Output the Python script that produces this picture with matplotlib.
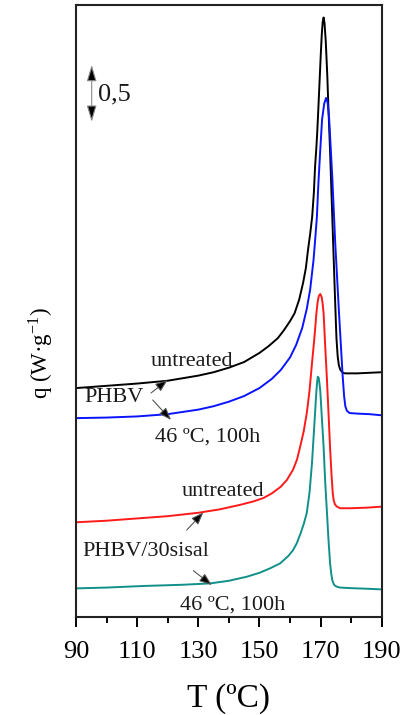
import matplotlib
matplotlib.use('Agg')
import matplotlib.pyplot as plt

plt.rcParams['font.family'] = ['Liberation Serif', 'DejaVu Serif']
plt.rcParams['mathtext.fontset'] = 'stix'

# DSC heating curves, PHBV and PHBV/30sisal (untreated and aged at 46 C for 100 h)
T_phbv = [90, 100, 110, 120, 130, 135, 140, 145, 150, 153, 156, 158, 160, 161.5, 163, 164.3, 165.2,
          165.9, 166.6, 167.25, 167.8, 168.2, 168.6, 168.9, 169.3, 169.7, 170.1, 170.4, 170.7, 171.0,
          171.3, 171.7, 172.2, 172.6, 173.1, 173.6, 174.2, 174.7, 175.2, 175.6, 176.0, 176.5, 177.3,
          178, 182, 186, 190]
q_phbv = [2.02, 2.04, 2.06, 2.085, 2.13, 2.16, 2.20, 2.25, 2.33, 2.39, 2.46, 2.53, 2.61, 2.68, 2.80,
          2.95, 3.08, 3.24, 3.38, 3.53, 3.74, 3.97, 4.13, 4.27, 4.50, 4.74, 4.98, 5.14, 5.25, 5.29,
          5.24, 5.08, 4.78, 4.47, 4.12, 3.72, 3.24, 2.84, 2.46, 2.30, 2.22, 2.18, 2.155,
          2.15, 2.15, 2.155, 2.16]

T_phbv_aged = [90, 100, 110, 120, 130, 135, 140, 145, 150, 154, 157, 160, 162, 164, 165.5, 166.6,
               167.7, 168.3, 168.8, 169.3, 169.9, 170.5, 171.2, 171.8, 172.3, 172.8, 173.3, 173.8,
               174.3, 174.8, 175.4, 176.0, 176.6, 177.2, 177.7, 178.1, 178.6, 179.5, 182, 186, 190]
q_phbv_aged = [1.755, 1.76, 1.77, 1.79, 1.83, 1.86, 1.90, 1.95, 2.02, 2.10, 2.18, 2.29, 2.40, 2.55,
               2.72, 2.89, 3.15, 3.35, 3.53, 3.83, 4.12, 4.39, 4.53, 4.58, 4.54, 4.40, 4.15, 3.90,
               3.60, 3.30, 3.00, 2.70, 2.42, 2.14, 1.95, 1.86, 1.82, 1.80, 1.795, 1.79, 1.78]

T_sisal = [90, 100, 110, 120, 130, 137, 143.7, 148, 151.3, 154, 157, 159, 161, 162.3, 163.3, 164.5,
           165.5, 166.4, 167.2, 167.8, 168.2, 168.6, 169.0, 169.4, 169.9, 170.4, 170.7, 171.0, 171.5,
           172.1, 172.6, 173.1, 173.6, 174.0, 174.3, 174.7, 175.3, 176.4, 180, 185, 190]
q_sisal = [0.836, 0.85, 0.87, 0.89, 0.92, 0.95, 0.99, 1.02, 1.05, 1.09, 1.15, 1.21, 1.30, 1.39,
           1.50, 1.64, 1.80, 2.00, 2.24, 2.41, 2.53, 2.67, 2.77, 2.83, 2.85, 2.82, 2.76, 2.68, 2.40,
           2.09, 1.80, 1.50, 1.25, 1.09, 1.03, 0.995, 0.975, 0.96, 0.96, 0.965, 0.974]

T_sisal_aged = [90, 100, 112, 125, 133.9, 140, 145.9, 150, 153.5, 156.8, 159.5, 161, 162.2, 163.5,
                164.6, 165.5, 166.4, 167.2, 167.7, 168.2, 168.6, 168.9, 169.1, 169.4, 169.6, 169.9,
                170.4, 171.0, 171.5, 172.1, 172.6, 173.1, 173.5, 173.9, 174.4, 175.1, 176.4, 180,
                185, 190]
q_sisal_aged = [0.253, 0.26, 0.274, 0.285, 0.297, 0.32, 0.356, 0.39, 0.43, 0.474, 0.54, 0.59, 0.65,
                0.74, 0.83, 0.92, 1.10, 1.36, 1.58, 1.80, 1.98, 2.08, 2.12, 2.11, 2.07, 2.00, 1.77,
                1.50, 1.20, 0.92, 0.68, 0.48, 0.38, 0.32, 0.285, 0.27, 0.26, 0.255, 0.25, 0.244]

curves = [
    (T_phbv, q_phbv, '#000000'),
    (T_phbv_aged, q_phbv_aged, '#0a14ff'),
    (T_sisal, q_sisal, '#ff1a1a'),
    (T_sisal_aged, q_sisal_aged, '#11908a'),
]

fig = plt.figure(figsize=(4.02, 7.15), dpi=100)
ax = fig.add_axes([0.189, 0.137, 0.7605, 0.856])

for T, q, c in curves:
    ax.plot(T, q, color=c, lw=1.4)

ax.set_xlim(90, 190)
ax.set_ylim(0, 5.4)
ax.set_xticks(range(90, 191, 20))
ax.set_xticks(range(100, 190, 20), minor=True)
ax.tick_params(axis='x', which='major', direction='out', length=7, width=1.4, labelsize=19, pad=10)
ax.tick_params(axis='x', which='minor', direction='out', length=4, width=1.4)
ax.set_yticks([])
for s in ax.spines.values():
    s.set_linewidth(1.5)
    s.set_color('#222222')

ax.set_xlabel('T (ºC)', fontsize=24, labelpad=15)
ax.set_ylabel(r'q (W·g$^{\mathregular{-1}}$)', fontsize=16.5)
ax.yaxis.set_label_coords(-0.07, 0.431)

txt = dict(fontsize=16, color='#1a1a1a')
ax.text(127.97, 2.259, 'untreated', ha='center', va='center', **txt)
ax.text(92.6, 1.933, 'PHBV', ha='left', va='center', **txt)
ax.text(132.9, 1.589, '46 ºC, 100h', ha='center', va='center', **txt)
ax.text(137.95, 1.112, 'untreated', ha='center', va='center', **txt)
ax.text(92.2, 0.576, 'PHBV/30sisal', ha='left', va='center', **txt)
ax.text(141.4, 0.106, '46 ºC, 100h', ha='center', va='center', **txt)

arrow = dict(arrowstyle='-|>,head_length=0.75,head_width=0.28', color='#555555', fc='black', lw=0.8,
             shrinkA=0, shrinkB=0)
ax.annotate('', xy=(120.0, 2.092), xytext=(114.55, 1.977), arrowprops=arrow)
ax.annotate('', xy=(121.1, 1.739), xytext=(115.1, 1.915), arrowprops=arrow)
ax.annotate('', xy=(131.67, 0.924), xytext=(126.24, 0.768), arrowprops=arrow)
ax.annotate('', xy=(134.42, 0.282), xytext=(128.4, 0.409), arrowprops=arrow)

# 0.5 W/g scale bar
bar = dict(arrowstyle='<|-|>,head_length=1.0,head_width=0.3', color='#888888', fc='black', lw=0.8,
           shrinkA=0, shrinkB=0)
ax.annotate('', xy=(95.14, 4.872), xytext=(95.14, 4.369), arrowprops=bar)
ax.text(97.3, 4.607, '0,5', ha='left', va='center', fontsize=19, color='#1a1a1a')

fig.savefig('out.png', dpi=100)
